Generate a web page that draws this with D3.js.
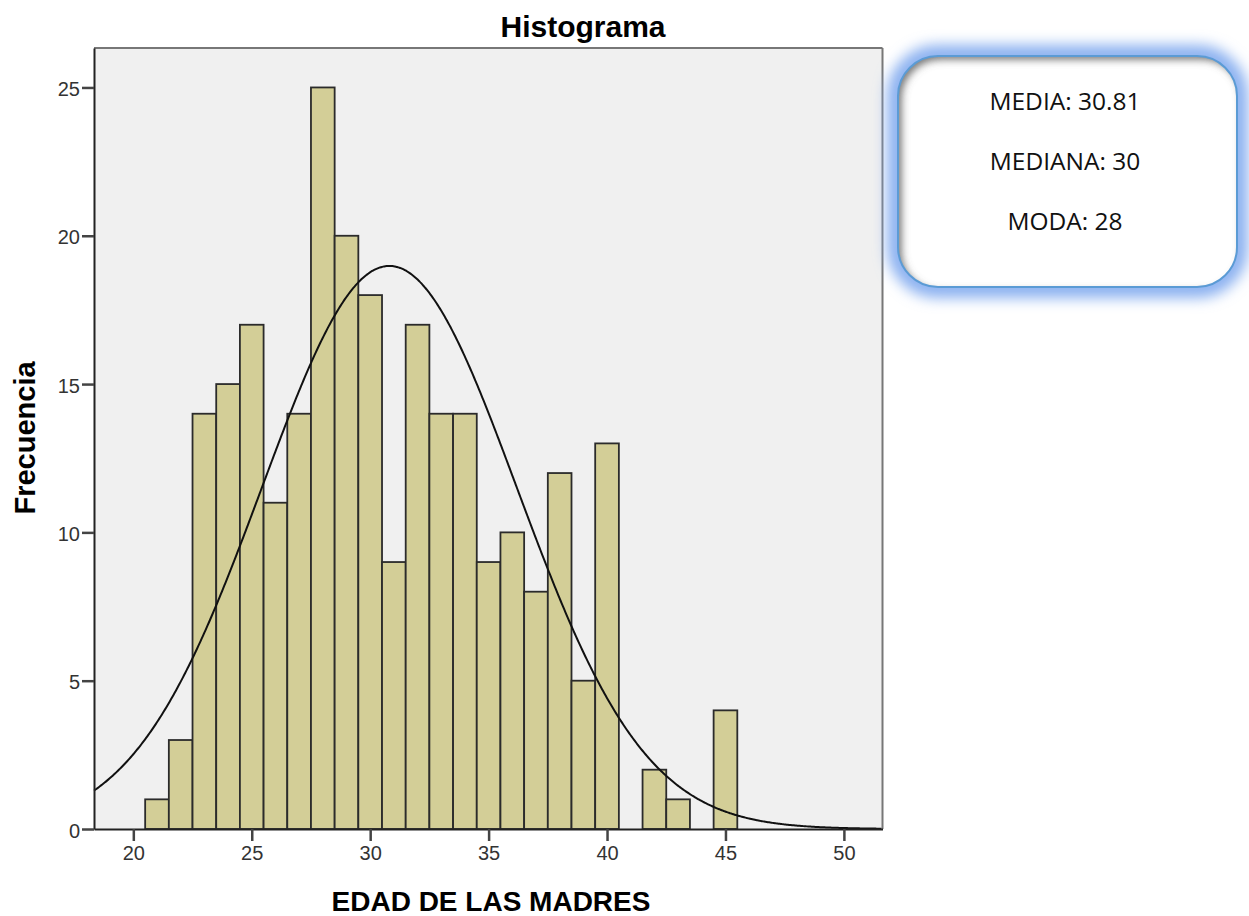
<!DOCTYPE html>
<html><head><meta charset="utf-8">
<script src="https://cdn.jsdelivr.net/npm/d3@7"></script>
<style>body{margin:0;background:#fff}svg{display:block}</style>
</head><body>
<svg id="chart" width="1249" height="916"></svg>
<script>
const ages = [21,22,23,24,25,26,27,28,29,30,31,32,33,34,35,36,37,38,39,40,41,42,43,44,45];
const counts = [1,3,14,15,17,11,14,25,20,18,9,17,14,14,9,10,8,12,5,13,0,2,1,0,4];
const xTicks = [20,25,30,35,40,45,50];
const yTicks = [0,5,10,15,20,25];
const mean = 30.81, sd = 5.38, total = 256;
const statLines = ["MEDIA: 30.81","MEDIANA: 30","MODA: 28"];

const svg = d3.select("#chart");
const L=94, R=882.5, T=48, B=829;
const x = d3.scaleLinear().domain([18.34,51.63]).range([L,R]);
const y = d3.scaleLinear().domain([0,26.33]).range([B,T]);
const FONT = "Liberation Sans, Arial, sans-serif";

svg.append("rect").attr("x",L).attr("y",T).attr("width",R-L).attr("height",B-T).attr("fill","#f0f0f0");

svg.append("g").selectAll("rect").data(ages.map((a,i)=>({a,c:counts[i]})).filter(d=>d.c>0))
 .join("rect")
 .attr("x",d=>x(d.a-0.5)).attr("width",d=>x(d.a+0.5)-x(d.a-0.5))
 .attr("y",d=>y(d.c)).attr("height",d=>y(0)-y(d.c))
 .attr("fill","#d3ce97").attr("stroke","#2b2b2b").attr("stroke-width",1.8);

const pts = d3.range(18.34,51.63,0.05).map(v=>[v, total/(sd*Math.sqrt(2*Math.PI))*Math.exp(-0.5*((v-mean)/sd)**2)]);
svg.append("path").attr("d",d3.line().x(d=>x(d[0])).y(d=>y(d[1])).curve(d3.curveBasis)(pts))
 .attr("fill","none").attr("stroke","#111").attr("stroke-width",2);

// frame
svg.append("line").attr("x1",L).attr("x2",R).attr("y1",T).attr("y2",T).attr("stroke","#777").attr("stroke-width",2);
svg.append("line").attr("x1",R).attr("x2",R).attr("y1",T).attr("y2",B).attr("stroke","#777").attr("stroke-width",2);

const xa = svg.append("g").attr("transform",`translate(0,${B})`).call(d3.axisBottom(x).tickValues(xTicks).tickSize(12).tickPadding(5).tickSizeOuter(0));
const ya = svg.append("g").attr("transform",`translate(${L},0)`).call(d3.axisLeft(y).tickValues(yTicks).tickSize(12).tickPadding(2).tickSizeOuter(0));
[xa,ya].forEach(g=>{
  g.attr("font-size",null).attr("font-family",null);
  g.select(".domain").attr("stroke","#222").attr("stroke-width",2);
  g.selectAll(".tick line").attr("stroke","#444").attr("stroke-width",2.5);
  g.selectAll(".tick text").style("font-family",FONT).style("font-size","20px").attr("fill","#333");
});
ya.selectAll(".tick text").attr("dy","0.4em");

svg.append("text").attr("x",583).attr("y",37).attr("text-anchor","middle")
 .style("font-family",FONT).attr("font-weight","bold").style("font-size","30px").text("Histograma");
svg.append("text").attr("x",491).attr("y",911).attr("text-anchor","middle")
 .style("font-family",FONT).attr("font-weight","bold").style("font-size","28px").text("EDAD DE LAS MADRES");
svg.append("text").attr("transform","translate(35,438) rotate(-90)").attr("text-anchor","middle")
 .style("font-family",FONT).attr("font-weight","bold").style("font-size","29px").text("Frecuencia");

// stats box
const bx=898, by=56, bw=339, bh=231, br=40;
const defs = svg.append("defs");
const glow = defs.append("filter").attr("id","glow").attr("x","-20%").attr("y","-20%").attr("width","140%").attr("height","140%");
glow.append("feGaussianBlur").attr("stdDeviation",7);
const inner = defs.append("filter").attr("id","inner").attr("x","-10%").attr("y","-10%").attr("width","120%").attr("height","120%");
inner.append("feGaussianBlur").attr("stdDeviation",4);
const clip = defs.append("clipPath").attr("id","boxclip");
clip.append("rect").attr("x",bx).attr("y",by).attr("width",bw).attr("height",bh).attr("rx",br);

svg.append("rect").attr("x",bx).attr("y",by).attr("width",bw).attr("height",bh).attr("rx",br)
 .attr("fill","none").attr("stroke","#8ab0f0").attr("stroke-width",22).attr("filter","url(#glow)");
svg.append("rect").attr("x",bx).attr("y",by).attr("width",bw).attr("height",bh).attr("rx",br).attr("fill","#fff");
const ig = svg.append("g").attr("clip-path","url(#boxclip)");
ig.append("rect").attr("x",bx-6).attr("y",by-6).attr("width",bw+12).attr("height",bh+12).attr("rx",br+5)
 .attr("fill","none").attr("stroke","#666").attr("stroke-width",10).attr("filter","url(#inner)")
 .attr("transform","translate(4,4)");
svg.append("rect").attr("x",bx).attr("y",by).attr("width",bw).attr("height",bh).attr("rx",br)
 .attr("fill","none").attr("stroke","#5b9bd5").attr("stroke-width",2);
svg.append("g").selectAll("text").data(statLines).join("text")
 .attr("x",1065).attr("y",(d,i)=>110+i*60).attr("text-anchor","middle")
 .style("font-family","Open Sans, Noto Sans, sans-serif").style("font-size","24.5px").attr("fill","#111").text(d=>d);
</script>
</body></html>
